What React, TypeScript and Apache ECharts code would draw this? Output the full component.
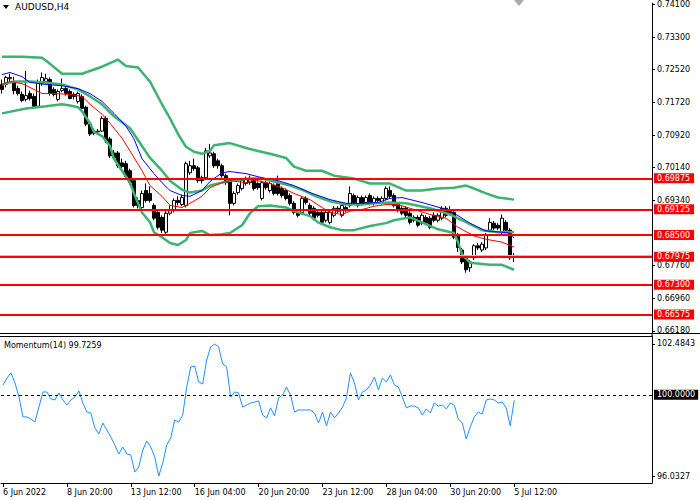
import React, { useEffect, useRef } from "react";
import * as echarts from "echarts";

// ---- data (AUDUSD H4) ----
const barOpen = [
  0.7215, 0.7215, 0.7229, 0.7222, 0.7205, 0.7191, 0.7179, 0.7193, 0.7186, 0.7162,
  0.7217, 0.7222, 0.7227, 0.7203, 0.7179, 0.72, 0.7205, 0.7198, 0.7191, 0.7174,
  0.7186, 0.716, 0.7119, 0.7102, 0.71, 0.7102, 0.7133, 0.7083, 0.7049, 0.7049,
  0.7025, 0.7023, 0.7006, 0.6982, 0.6934, 0.6917, 0.6958, 0.6951, 0.6922, 0.6905,
  0.6893, 0.6857, 0.6903, 0.691, 0.6934, 0.6924, 0.6922, 0.7001, 0.7018, 0.7013,
  0.6989, 0.6989, 0.7042, 0.7047, 0.703, 0.7018, 0.6994, 0.6982, 0.6927, 0.6953,
  0.6963, 0.6975, 0.6977, 0.6982, 0.6975, 0.6939, 0.6977, 0.6958, 0.697, 0.6975,
  0.6963, 0.6958, 0.6946, 0.6927, 0.6905, 0.6905, 0.6939, 0.6922, 0.6915, 0.6905,
  0.6905, 0.6886, 0.6881, 0.6898, 0.6915, 0.6898, 0.6917, 0.6922, 0.6946, 0.6922,
  0.6941, 0.6929, 0.6946, 0.6927, 0.6939, 0.6929, 0.6939, 0.6958, 0.6946, 0.6924,
  0.6915, 0.6915, 0.6903, 0.6893, 0.6893, 0.6879, 0.6893, 0.6891, 0.6898, 0.6886,
  0.6891, 0.6915, 0.6912, 0.6905, 0.685, 0.6814, 0.6795, 0.6771, 0.6795, 0.6824,
  0.6814, 0.6819, 0.6862, 0.6879, 0.6874, 0.6857, 0.6881, 0.6862, 0.6797,
];
const barClose = [
  0.7203, 0.7232, 0.7232, 0.72, 0.7193, 0.7176, 0.7188, 0.7181, 0.7162, 0.7222,
  0.7232, 0.7229, 0.7193, 0.7191, 0.7198, 0.7205, 0.7193, 0.7181, 0.7186, 0.7193,
  0.7157, 0.7119, 0.7095, 0.7097, 0.7102, 0.7133, 0.7078, 0.7042, 0.7037, 0.7018,
  0.7016, 0.6992, 0.6977, 0.6922, 0.6922, 0.6951, 0.6934, 0.6934, 0.6891, 0.6869,
  0.6862, 0.6903, 0.6912, 0.6934, 0.6929, 0.6941, 0.7023, 0.7018, 0.7011, 0.6982,
  0.6982, 0.7054, 0.7049, 0.7018, 0.7018, 0.6994, 0.6977, 0.6927, 0.6951, 0.697,
  0.6982, 0.6987, 0.6987, 0.6963, 0.6965, 0.6977, 0.6965, 0.6975, 0.6951, 0.6951,
  0.6946, 0.6939, 0.6927, 0.6905, 0.6898, 0.6939, 0.6929, 0.6903, 0.6891, 0.6898,
  0.6881, 0.6905, 0.6905, 0.6915, 0.6908, 0.6922, 0.691, 0.6951, 0.6929, 0.6941,
  0.6927, 0.6941, 0.6927, 0.6939, 0.6934, 0.6939, 0.6963, 0.6944, 0.6922, 0.691,
  0.6903, 0.6898, 0.6881, 0.6886, 0.6874, 0.6898, 0.6879, 0.6869, 0.6886, 0.6898,
  0.6915, 0.6898, 0.6903, 0.6845, 0.682, 0.6785, 0.6766, 0.6785, 0.6824, 0.6819,
  0.6828, 0.685, 0.6881, 0.6867, 0.6867, 0.6891, 0.6862, 0.6795, 0.6801,
];
const barLow = [
  0.7193, 0.7208, 0.7222, 0.7191, 0.7188, 0.7172, 0.7174, 0.7176, 0.716, 0.716,
  0.7212, 0.7217, 0.7188, 0.7186, 0.7174, 0.7196, 0.7188, 0.7179, 0.7179, 0.7169,
  0.7155, 0.7114, 0.709, 0.7092, 0.7095, 0.71, 0.7073, 0.7037, 0.7032, 0.7013,
  0.7011, 0.6987, 0.6972, 0.6917, 0.6915, 0.6912, 0.6929, 0.6929, 0.6886, 0.6864,
  0.6855, 0.6852, 0.6898, 0.6905, 0.6922, 0.692, 0.6917, 0.6996, 0.7006, 0.6977,
  0.6975, 0.6984, 0.7037, 0.7013, 0.7011, 0.6989, 0.6972, 0.6898, 0.6922, 0.6948,
  0.6958, 0.697, 0.6972, 0.6958, 0.696, 0.6934, 0.696, 0.6953, 0.6946, 0.6946,
  0.6941, 0.6934, 0.6922, 0.69, 0.6893, 0.69, 0.6924, 0.6898, 0.6886, 0.6893,
  0.6876, 0.6881, 0.6876, 0.6893, 0.6903, 0.6893, 0.6905, 0.6917, 0.6924, 0.6917,
  0.6922, 0.6924, 0.6922, 0.6922, 0.6929, 0.6924, 0.6934, 0.6939, 0.6917, 0.6905,
  0.6898, 0.6893, 0.6876, 0.6881, 0.6869, 0.6874, 0.6874, 0.6864, 0.6881, 0.6881,
  0.6886, 0.6893, 0.6898, 0.684, 0.6809, 0.678, 0.6759, 0.6761, 0.679, 0.6814,
  0.6809, 0.6814, 0.6857, 0.6862, 0.6862, 0.6852, 0.6857, 0.679, 0.6785,
];
const barHigh = [
  0.7227, 0.7236, 0.7241, 0.7234, 0.7212, 0.7198, 0.7248, 0.72, 0.7193, 0.7227,
  0.7244, 0.7241, 0.7232, 0.7208, 0.7203, 0.7229, 0.721, 0.7203, 0.7196, 0.7198,
  0.7191, 0.7164, 0.7124, 0.7109, 0.7107, 0.7138, 0.7138, 0.7088, 0.7056, 0.7054,
  0.7035, 0.703, 0.7011, 0.6987, 0.6941, 0.6958, 0.6975, 0.6968, 0.6927, 0.691,
  0.6898, 0.6908, 0.6922, 0.6939, 0.6944, 0.6948, 0.7028, 0.703, 0.7035, 0.7018,
  0.6994, 0.7061, 0.7071, 0.7052, 0.7035, 0.7023, 0.6999, 0.6987, 0.6956, 0.6975,
  0.6987, 0.6992, 0.6994, 0.6989, 0.698, 0.6982, 0.6982, 0.698, 0.6975, 0.6994,
  0.6968, 0.6963, 0.6951, 0.6932, 0.691, 0.6944, 0.6944, 0.6927, 0.692, 0.691,
  0.691, 0.691, 0.691, 0.692, 0.692, 0.6927, 0.6922, 0.6968, 0.6951, 0.6946,
  0.6946, 0.6946, 0.6951, 0.6944, 0.6944, 0.6944, 0.6968, 0.6968, 0.6951, 0.6929,
  0.692, 0.692, 0.6908, 0.6898, 0.6898, 0.6903, 0.6898, 0.6896, 0.6905, 0.6903,
  0.692, 0.692, 0.692, 0.691, 0.6855, 0.6819, 0.68, 0.679, 0.6828, 0.6831,
  0.6833, 0.6855, 0.6891, 0.6884, 0.6879, 0.69, 0.6886, 0.6867, 0.6807,
];

// Bollinger bands (green) as [bar index, price]
const bandUpper = [
  [0, 0.7282], [5, 0.7282], [10, 0.728], [12, 0.7265], [15, 0.7241], [20, 0.7241], [25, 0.7258],
  [29, 0.7275], [31, 0.726], [34, 0.7256], [37, 0.7222], [40, 0.7167], [42, 0.7133], [44, 0.7095],
  [46, 0.7064], [48, 0.7052], [50, 0.7047], [52, 0.7054], [53, 0.7068], [57, 0.7073], [61, 0.7061],
  [64, 0.7054], [67, 0.7047], [71, 0.7037], [73, 0.7016], [76, 0.7006], [80, 0.7006], [83, 0.6994],
  [88, 0.6987], [92, 0.6975], [97, 0.6975], [101, 0.6958], [105, 0.6958], [109, 0.6963], [113, 0.6965],
  [116, 0.697], [118, 0.6963], [121, 0.6951], [124, 0.6941], [128, 0.6936],
];
const bandMiddle = [
  [0, 0.7215], [3, 0.7222], [7, 0.7222], [11, 0.722], [15, 0.7215], [19, 0.7203], [22, 0.7186],
  [25, 0.7167], [28, 0.7138], [32, 0.7109], [35, 0.7066], [37, 0.7037], [40, 0.7006], [42, 0.6982],
  [45, 0.696], [47, 0.6953], [50, 0.6958], [52, 0.697], [57, 0.6982], [62, 0.6987], [65, 0.6987],
  [68, 0.698], [72, 0.697], [75, 0.696], [78, 0.6946], [82, 0.6932], [86, 0.6924], [90, 0.6924],
  [93, 0.6927], [97, 0.6929], [101, 0.6927], [107, 0.6915], [112, 0.69], [115, 0.6886], [120, 0.6862],
  [124, 0.6857], [128, 0.6857],
];
const bandLower = [
  [0, 0.7145], [6, 0.7157], [11, 0.7162], [15, 0.7167], [17, 0.7164], [19, 0.716], [20, 0.715],
  [22, 0.7121], [23, 0.71], [25, 0.709], [27, 0.7066], [28, 0.7035], [30, 0.7006], [32, 0.6977],
  [33, 0.6951], [35, 0.6905], [37, 0.6881], [38, 0.6857], [40, 0.6845], [42, 0.6831], [44, 0.6826],
  [46, 0.6838], [47, 0.6855], [50, 0.686], [52, 0.685], [55, 0.6852], [57, 0.6855], [60, 0.6874],
  [62, 0.6903], [64, 0.692], [67, 0.6922], [71, 0.6917], [73, 0.6908], [77, 0.6896], [79, 0.6881],
  [82, 0.6869], [85, 0.6862], [88, 0.6862], [92, 0.6872], [96, 0.6879], [98, 0.6886], [102, 0.6893],
  [105, 0.6881], [109, 0.6864], [113, 0.6855], [114, 0.6833], [115, 0.6804], [117, 0.6783],
  [122, 0.6778], [125, 0.6778], [128, 0.6766],
];
// moving averages as [bar index, price]
const maBlue = [
  [0, 0.7239], [2, 0.7244], [5, 0.7234], [7, 0.722], [11, 0.7215], [15, 0.7212], [19, 0.7205],
  [22, 0.7193], [25, 0.7174], [28, 0.7145], [31, 0.7114], [33, 0.7083], [35, 0.7035], [38, 0.6999],
  [40, 0.6977], [42, 0.6958], [45, 0.6946], [47, 0.6944], [50, 0.6958], [52, 0.698], [55, 0.7001],
  [57, 0.7004], [61, 0.6999], [65, 0.6989], [69, 0.6982], [73, 0.697], [77, 0.6953], [82, 0.6936],
  [86, 0.6927], [90, 0.6927], [94, 0.6929], [97, 0.6939], [100, 0.6941], [105, 0.6929], [110, 0.6915],
  [113, 0.6903], [117, 0.6879], [121, 0.686], [125, 0.6857], [127, 0.6855], [128, 0.6843],
];
const maRed = [
  [0, 0.7215], [2, 0.7222], [5, 0.7217], [8, 0.7203], [10, 0.7193], [13, 0.7193], [17, 0.7191],
  [20, 0.7186], [22, 0.7167], [25, 0.7143], [27, 0.7121], [30, 0.7085], [32, 0.7054], [35, 0.7006],
  [37, 0.697], [40, 0.6944], [42, 0.6922], [45, 0.6917], [47, 0.6927], [50, 0.6944], [52, 0.6965],
  [55, 0.6977], [57, 0.6982], [61, 0.6977], [63, 0.6984], [67, 0.6975], [70, 0.6965], [73, 0.6951],
  [77, 0.6936], [80, 0.6917], [82, 0.6905], [85, 0.69], [87, 0.6908], [90, 0.6912], [93, 0.692],
  [96, 0.6924], [99, 0.6924], [102, 0.6915], [107, 0.69], [111, 0.6891], [114, 0.6869], [118, 0.6848],
  [121, 0.684], [125, 0.6833], [128, 0.6821],
];
// Momentum(14), one value per bar
const momentum = [
  100.48, 100.82, 101.07, 100.58, 99.89, 98.92, 98.92, 98.82, 98.67, 99.4,
  100.14, 100.14, 99.8, 99.75, 100.09, 99.75, 99.5, 99.75, 99.89, 100.19,
  99.6, 99.16, 99.11, 98.38, 98.09, 98.62, 98.28, 97.94, 97.55, 97.11,
  97.45, 97.11, 97.06, 96.23, 96.48, 97.3, 97.74, 97.45, 96.96, 96.03,
  96.67, 97.55, 97.89, 98.77, 98.67, 99.01, 100.38, 101.36, 101.41, 100.63,
  100.53, 101.7, 102.34, 102.48, 102.34, 101.51, 101.36, 99.89, 100.14, 100.09,
  99.4, 99.5, 99.6, 99.65, 99.7, 99.01, 98.87, 99.36, 98.97, 99.85,
  99.99, 100.38, 99.99, 99.16, 99.26, 99.26, 99.26, 99.26, 99.11, 98.62,
  99.16, 98.48, 99.16, 98.87, 99.11, 99.4, 99.85, 101.07, 100.58, 99.75,
  100.14, 100.24, 100.48, 100.87, 100.24, 100.82, 100.63, 100.97, 100.48, 100.38,
  99.89, 99.36, 99.45, 99.45, 99.36, 99.01, 99.31, 99.11, 99.6, 99.45,
  99.5, 99.31, 99.6, 99.5, 98.82, 98.62, 97.84, 98.43, 98.92, 99.16,
  99.06, 99.75, 99.8, 99.75, 99.6, 99.65, 99.36, 98.48, 99.7259,
];

const priceTicks = [0.741, 0.733, 0.7252, 0.7172, 0.7092, 0.7014, 0.6934, 0.6776, 0.6696, 0.6618];
const levels = [0.69875, 0.69125, 0.685, 0.67975, 0.673, 0.66575];
const momentumTicks = [102.4843, 96.0327];
const momentumLevel = 100;
const timeTicks: [number, string][] = [
  [0, "6 Jun 2022"], [16, "8 Jun 20:00"], [32, "13 Jun 12:00"], [48, "16 Jun 04:00"],
  [64, "20 Jun 20:00"], [80, "23 Jun 12:00"], [96, "28 Jun 04:00"], [112, "30 Jun 20:00"],
  [128, "5 Jul 12:00"],
];
const symbolTitle = "AUDUSD,H4";
const SLOTS = 163;

const FONT = "DejaVu Sans";
const GREEN = "#3cb371";

function buildOption(): any {
  const cats = Array.from({ length: SLOTS }, (_, i) => String(i));
  const tickMap = new Map<number, string>(timeTicks);
  const candles = barOpen.map((o, i) => [o, barClose[i], barLow[i], barHigh[i]]);
  const lastClose = barClose[barClose.length - 1];
  const lastMom = momentum[momentum.length - 1];

  const lineSeries = (data: number[][], color: string, width: number, z: number, extra: any = {}) => ({
    type: "line",
    xAxisIndex: 0,
    yAxisIndex: 0,
    data,
    symbol: "none",
    silent: true,
    z,
    lineStyle: { color, width },
    ...extra,
  });

  return {
    animation: false,
    backgroundColor: "#ffffff",
    textStyle: { fontFamily: FONT, fontSize: 8, color: "#000" },
    grid: [
      { left: -1.5, top: 0, width: 653.5, height: 333 },
      { left: -1.5, top: 336, width: 653.5, height: 147 },
    ],
    xAxis: [
      {
        type: "category",
        gridIndex: 0,
        data: cats,
        boundaryGap: true,
        axisLine: { show: false },
        axisTick: { show: false },
        axisLabel: { show: false },
        splitLine: { show: false },
      },
      {
        type: "category",
        gridIndex: 1,
        data: cats,
        boundaryGap: true,
        axisLine: { show: true, lineStyle: { color: "#000", width: 1 } },
        axisTick: {
          show: true,
          alignWithLabel: true,
          length: 4,
          interval: (idx: number) => tickMap.has(idx),
          lineStyle: { color: "#000" },
        },
        axisLabel: {
          show: true,
          interval: (idx: number) => tickMap.has(idx),
          formatter: (_v: string, idx: number) => tickMap.get(idx) ?? "",
          align: "left",
          margin: 5,
          color: "#000",
          fontFamily: FONT,
          fontSize: 8,
        },
        splitLine: { show: false },
      },
    ],
    yAxis: [
      {
        type: "value",
        gridIndex: 0,
        position: "right",
        min: 0.66128,
        max: 0.7412,
        scale: true,
        splitLine: { show: false },
        axisLine: { show: true, lineStyle: { color: "#000", width: 1 } },
        axisTick: { show: true, length: 3, customValues: priceTicks, lineStyle: { color: "#000" } },
        axisLabel: {
          show: true,
          customValues: priceTicks,
          formatter: (v: number) => v.toFixed(5),
          margin: 5,
          color: "#000",
          fontFamily: FONT,
          fontSize: 8,
        },
      },
      {
        type: "value",
        gridIndex: 1,
        position: "right",
        min: 95.6906,
        max: 102.8753,
        scale: true,
        splitLine: { show: false },
        axisLine: { show: true, lineStyle: { color: "#000", width: 1 } },
        axisTick: { show: true, length: 3, customValues: momentumTicks, lineStyle: { color: "#000" } },
        axisLabel: {
          show: true,
          customValues: momentumTicks,
          formatter: (v: number) => v.toFixed(4),
          margin: 5,
          color: "#000",
          fontFamily: FONT,
          fontSize: 8,
        },
      },
    ],
    series: [
      {
        type: "candlestick",
        xAxisIndex: 0,
        yAxisIndex: 0,
        data: candles,
        barWidth: 2.6,
        silent: true,
        z: 2,
        itemStyle: {
          color: "#ffffff",
          color0: "#000000",
          borderColor: "#000000",
          borderColor0: "#000000",
          borderWidth: 1,
        },
      },
      lineSeries(bandUpper, GREEN, 2.5, 3),
      lineSeries(bandMiddle, GREEN, 2.5, 3),
      lineSeries(bandLower, GREEN, 2.5, 3),
      lineSeries(maBlue, "#0000ff", 1, 4),
      lineSeries(maRed, "#ff0000", 1, 4, {
        markLine: {
          silent: true,
          symbol: "none",
          animation: false,
          precision: 5,
          data: [
            {
              yAxis: lastClose,
              lineStyle: { color: "#c0c0c0", width: 1, type: "solid" },
              label: { show: false },
            },
            ...levels.map((v) => ({
              yAxis: v,
              lineStyle: { color: "#ff0000", width: 2, type: "solid" },
              label: {
                show: true,
                position: "end",
                distance: 2,
                formatter: v.toFixed(5),
                color: "#ffffff",
                backgroundColor: "#ff0000",
                padding: [1, 4, 0, 3],
                lineHeight: 9,
                fontFamily: FONT,
                fontSize: 8,
              },
            })),
          ],
        },
      }),
      {
        type: "line",
        xAxisIndex: 1,
        yAxisIndex: 1,
        data: momentum,
        symbol: "none",
        silent: true,
        z: 3,
        lineStyle: { color: "#1e90ff", width: 1 },
        markLine: {
          silent: true,
          symbol: "none",
          animation: false,
          precision: 4,
          data: [
            {
              yAxis: momentumLevel,
              lineStyle: { color: "#000", width: 1, type: [3, 3] },
              label: {
                show: true,
                position: "end",
                distance: 2,
                formatter: momentumLevel.toFixed(4),
                color: "#ffffff",
                backgroundColor: "#000000",
                padding: [1, 3, 1, 3],
                fontFamily: FONT,
                fontSize: 8,
              },
            },
          ],
        },
      },
    ],
    graphic: [
      { type: "polygon", shape: { points: [[3, 5], [9, 5], [6, 9]] }, style: { fill: "#000" }, silent: true },
      {
        type: "text",
        x: 15,
        y: 7,
        style: { text: symbolTitle, fill: "#000", font: `9px "${FONT}"`, verticalAlign: "middle" },
        silent: true,
      },
      { type: "polygon", shape: { points: [[514, 0], [524, 0], [519, 6]] }, style: { fill: "#a9a9a9" }, silent: true },
      {
        type: "text",
        x: 4,
        y: 345.5,
        style: {
          text: `Momentum(14) ${lastMom.toFixed(4)}`,
          fill: "#000",
          font: `8px "${FONT}"`,
          verticalAlign: "middle",
        },
        silent: true,
      },
      { type: "line", shape: { x1: 0, y1: 333.5, x2: 700, y2: 333.5 }, style: { stroke: "#000", lineWidth: 1 }, silent: true },
      { type: "line", shape: { x1: 0, y1: 336.5, x2: 652, y2: 336.5 }, style: { stroke: "#000", lineWidth: 1 }, silent: true },
      { type: "line", shape: { x1: 652, y1: 333, x2: 652, y2: 337 }, style: { stroke: "#000", lineWidth: 1 }, silent: true },
    ],
  };
}

export default function App() {
  const ref = useRef<HTMLDivElement>(null);
  useEffect(() => {
    document.body.style.margin = "0";
    const chart = echarts.init(ref.current!, undefined, { renderer: "svg" });
    chart.setOption(buildOption());
    return () => chart.dispose();
  }, []);
  return <div ref={ref} style={{ width: 700, height: 500, background: "#fff" }} />;
}
